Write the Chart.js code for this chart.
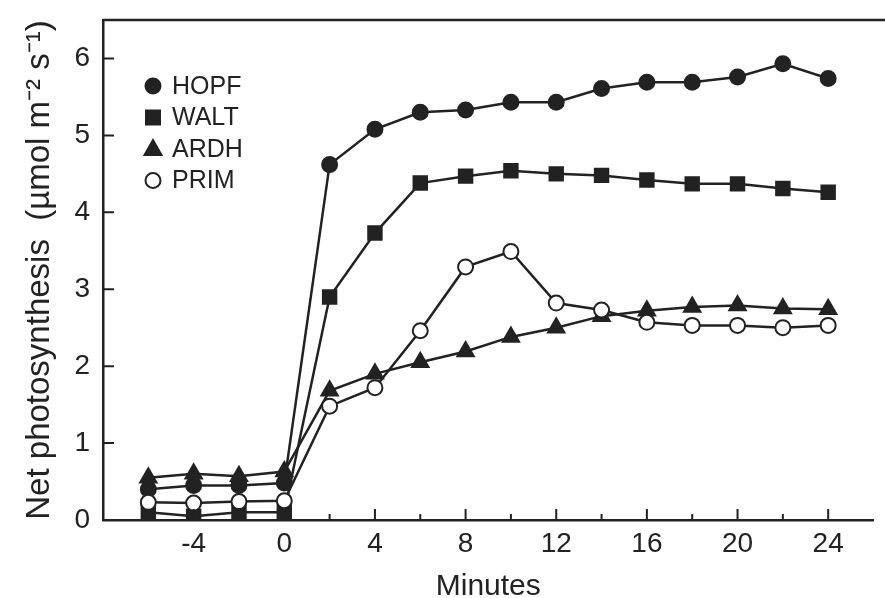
<!DOCTYPE html>
<html lang="en">
<head>
<meta charset="UTF-8">
<title>Net photosynthesis</title>
<script src="https://cdn.jsdelivr.net/npm/chart.js@4.4.0/dist/chart.umd.min.js"></script>
<style>
  html, body { margin: 0; padding: 0; background: #fff; }
  #wrap { width: 885px; height: 598px; position: relative; }
</style>
</head>
<body>
<div id="wrap"><canvas id="chart"></canvas></div>
<script>
// values
const minutes = [-6, -4, -2, 0, 2, 4, 6, 8, 10, 12, 14, 16, 18, 20, 22, 24];
const hopf = [0.40, 0.45, 0.45, 0.48, 4.62, 5.08, 5.30, 5.33, 5.43, 5.43, 5.61, 5.69, 5.69, 5.76, 5.93, 5.74];
const walt = [0.10, 0.05, 0.10, 0.10, 2.90, 3.73, 4.38, 4.47, 4.54, 4.50, 4.48, 4.42, 4.37, 4.37, 4.31, 4.26];
const ardh = [0.55, 0.60, 0.57, 0.63, 1.68, 1.90, 2.05, 2.19, 2.38, 2.50, 2.65, 2.72, 2.77, 2.79, 2.75, 2.74];
const prim = [0.23, 0.22, 0.24, 0.25, 1.48, 1.72, 2.46, 3.29, 3.49, 2.82, 2.73, 2.57, 2.53, 2.53, 2.50, 2.53];

const xMajor = [-4, 0, 4, 8, 12, 16, 20, 24];
const xMinor = [-6, -2, 2, 6, 10, 14, 18, 22];
const yTicks = [0, 1, 2, 3, 4, 5, 6];

const ink = '#222';
const font = '"Liberation Sans", Arial, Helvetica, sans-serif';

function pts(ys) {
  return minutes.map((m, i) => ({ x: m, y: ys[i] }));
}

const series = [
  { label: 'HOPF', data: hopf, style: 'circle', fill: ink, r: 7.5, order: 3 },
  { label: 'WALT', data: walt, style: 'rect', fill: ink, r: 9.5, order: 2 },
  { label: 'ARDH', data: ardh, style: 'triangle', fill: ink, r: 9.5, order: 1 },
  { label: 'PRIM', data: prim, style: 'circle', fill: '#fff', r: 7.5, order: 0 }
];

// axis frame, inward tick marks and legend inside the plot
const framePlugin = {
  id: 'frame',
  afterDraw(chart) {
    const ctx = chart.ctx;
    const a = chart.chartArea;
    const xs = chart.scales.x, ys = chart.scales.y;
    ctx.save();
    ctx.strokeStyle = ink;
    ctx.lineWidth = 2.5;
    ctx.beginPath();
    ctx.moveTo(a.left, a.top);
    ctx.lineTo(chart.width, a.top);
    ctx.stroke();

    ctx.lineWidth = 2;
    ctx.beginPath();
    xMajor.forEach(v => {
      const px = xs.getPixelForValue(v);
      ctx.moveTo(px, a.bottom);
      ctx.lineTo(px, a.bottom - 11);
    });
    xMinor.forEach(v => {
      const px = xs.getPixelForValue(v);
      ctx.moveTo(px, a.bottom);
      ctx.lineTo(px, a.bottom - 6);
    });
    yTicks.slice(1).forEach(v => {
      const py = ys.getPixelForValue(v);
      ctx.moveTo(a.left, py);
      ctx.lineTo(a.left + 11, py);
    });
    ctx.stroke();

    // legend
    const lx = a.left + 50, ly = a.top + 66, step = 31.5;
    ctx.font = '25px ' + font;
    ctx.textBaseline = 'middle';
    ctx.textAlign = 'left';
    series.forEach((s, i) => {
      const cy = ly + i * step;
      ctx.fillStyle = s.fill;
      ctx.strokeStyle = ink;
      ctx.lineWidth = 2;
      ctx.beginPath();
      if (s.style === 'circle') {
        ctx.arc(lx, cy, 7.5, 0, Math.PI * 2);
      } else if (s.style === 'rect') {
        ctx.rect(lx - 7, cy - 7, 14, 14);
      } else {
        ctx.moveTo(lx, cy - 9);
        ctx.lineTo(lx + 8.5, cy + 6);
        ctx.lineTo(lx - 8.5, cy + 6);
        ctx.closePath();
      }
      ctx.fill();
      ctx.stroke();
      ctx.fillStyle = ink;
      ctx.fillText(s.label, lx + 19, cy + 1);
    });
    ctx.restore();
  }
};

new Chart(document.getElementById('chart'), {
  type: 'line',
  data: {
    datasets: series.map(s => ({
      label: s.label,
      data: pts(s.data),
      order: s.order,
      borderColor: ink,
      borderWidth: 2.5,
      pointStyle: s.style,
      pointRadius: s.r,
      pointBackgroundColor: s.fill,
      pointBorderColor: ink,
      pointBorderWidth: 2,
      tension: 0
    }))
  },
  options: {
    responsive: true,
    maintainAspectRatio: false,
    animation: false,
    layout: { padding: { top: 20, right: 0, left: 0, bottom: 0 } },
    plugins: {
      legend: { display: false },
      tooltip: { enabled: false }
    },
    scales: {
      x: {
        type: 'linear',
        min: -8,
        max: 26,
        afterBuildTicks: scale => { scale.ticks = xMajor.map(v => ({ value: v })); },
        afterFit: scale => {
          scale.height = 78;
          scale.paddingLeft = 0;
          scale.paddingRight = 0;
        },
        grid: { display: false, drawTicks: false },
        border: { display: true, color: ink, width: 2.5 },
        ticks: {
          color: ink,
          padding: 7,
          maxRotation: 0,
          font: { family: font, size: 28 }
        },
        title: {
          display: true,
          text: 'Minutes',
          color: ink,
          font: { family: font, size: 30, lineHeight: 0.75 },
          padding: { top: 0, bottom: 0 }
        }
      },
      y: {
        min: 0,
        max: 6.5,
        afterBuildTicks: scale => { scale.ticks = yTicks.map(v => ({ value: v })); },
        afterFit: scale => {
          scale.width = 103;
          scale.paddingTop = 0;
          scale.paddingBottom = 0;
        },
        grid: { display: false, drawTicks: false },
        border: { display: true, color: ink, width: 2.5 },
        ticks: {
          color: ink,
          padding: 13,
          font: { family: font, size: 28 }
        },
        title: {
          display: true,
          text: 'Net photosynthesis  (\u00b5mol m\u207b\u00b2 s\u207b\u00b9)',
          color: ink,
          font: { family: font, size: 33, lineHeight: 1.2 },
          padding: { top: 20, bottom: 0 }
        }
      }
    }
  },
  plugins: [framePlugin]
});
</script>
</body>
</html>
